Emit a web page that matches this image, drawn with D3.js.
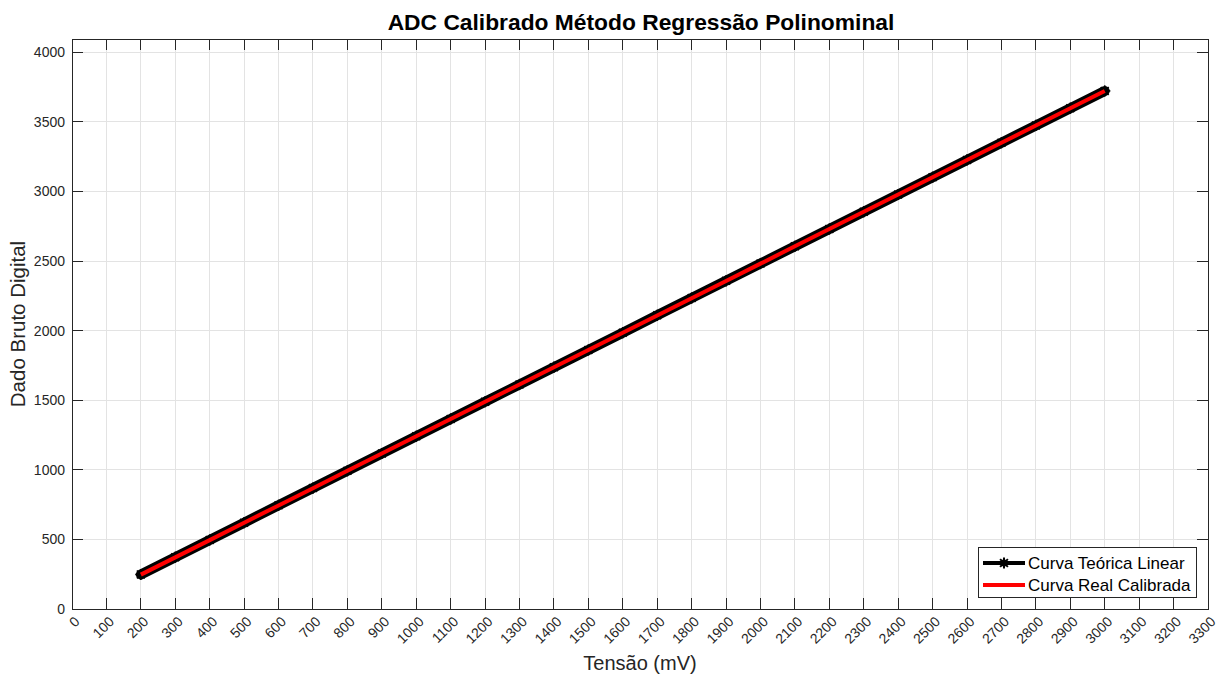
<!DOCTYPE html>
<html>
<head>
<meta charset="utf-8">
<script src="https://cdn.jsdelivr.net/npm/d3@7"></script>
<style>
  html, body { margin: 0; padding: 0; background: #fff; }
  svg { display: block; font-family: "Liberation Sans", Arial, Helvetica, sans-serif; }
</style>
</head>
<body>
<svg id="chart" width="1225" height="677"></svg>
<script>
// Tensão de entrada (mV)
const tensao = [200, 300, 400, 500, 600, 700, 800, 900, 1000, 1100, 1200, 1300, 1400, 1500,
  1600, 1700, 1800, 1900, 2000, 2100, 2200, 2300, 2400, 2500, 2600, 2700, 2800, 2900, 3000];
// Curva teórica linear (dado bruto)
const teorica = [248, 372, 496, 620, 745, 869, 993, 1117, 1241, 1365, 1489, 1613, 1737, 1861,
  1985, 2110, 2234, 2358, 2482, 2606, 2730, 2854, 2978, 3102, 3226, 3350, 3474, 3598, 3722];
// Curva real calibrada (dado bruto)
const calibrada = [247, 371, 495, 620, 744, 868, 993, 1117, 1241, 1365, 1489, 1613, 1737, 1861,
  1985, 2109, 2233, 2357, 2481, 2606, 2730, 2854, 2978, 3102, 3226, 3350, 3474, 3598, 3721];

const xTicks = d3.range(0, 3301, 100);
const yTicks = [0, 500, 1000, 1500, 2000, 2500, 3000, 3500, 4000];
const legendLabels = ["Curva Teórica Linear", "Curva Real Calibrada"];

const svg = d3.select("#chart");
const L = 72, R = 1208, T = 39, B = 609;
const x = d3.scaleLinear().domain([0, 3300]).range([L, R]);
const y = d3.scaleLinear().domain([0, 4095]).range([B, T]);
const axisColor = "#262626";
const tickLen = 11;

// grid
const grid = svg.append("g");
grid.selectAll("line.gx").data(xTicks).join("line")
  .attr("x1", d => x(d)).attr("x2", d => x(d)).attr("y1", T).attr("y2", B)
  .attr("stroke", "#e3e3e3").attr("stroke-width", 1).attr("shape-rendering", "crispEdges");
grid.selectAll("line.gy").data(yTicks).join("line")
  .attr("y1", d => y(d)).attr("y2", d => y(d)).attr("x1", L).attr("x2", R)
  .attr("stroke", "#e3e3e3").attr("stroke-width", 1).attr("shape-rendering", "crispEdges");

// data
const pts = (ys) => tensao.map((t, i) => [t, ys[i]]);
const line = d3.line().x(d => x(d[0])).y(d => y(d[1]));

svg.append("path").datum(pts(teorica)).attr("d", line)
  .attr("fill", "none").attr("stroke", "#000").attr("stroke-width", 10)
  .attr("stroke-linecap", "round").attr("stroke-linejoin", "round");

// asterisk markers
const star = (g, cx, cy, r, w) => {
  for (let k = 0; k < 4; k++) {
    const a = k * Math.PI / 4;
    g.append("line")
      .attr("x1", cx - r * Math.cos(a)).attr("y1", cy - r * Math.sin(a))
      .attr("x2", cx + r * Math.cos(a)).attr("y2", cy + r * Math.sin(a))
      .attr("stroke", "#000").attr("stroke-width", w);
  }
};
const mk = svg.append("g");
pts(teorica).forEach(d => star(mk, x(d[0]), y(d[1]), 5.6, 1.6));

svg.append("path").datum(pts(calibrada)).attr("d", line)
  .attr("fill", "none").attr("stroke", "#ff0000").attr("stroke-width", 4);

// axes box + ticks
const ax = svg.append("g").attr("stroke", axisColor).attr("stroke-width", 1)
  .attr("shape-rendering", "crispEdges");
ax.append("rect").attr("x", L).attr("y", T).attr("width", R - L).attr("height", B - T)
  .attr("fill", "none");
xTicks.forEach(t => {
  ax.append("line").attr("x1", x(t)).attr("x2", x(t)).attr("y1", B).attr("y2", B - tickLen);
  ax.append("line").attr("x1", x(t)).attr("x2", x(t)).attr("y1", T).attr("y2", T + tickLen);
});
yTicks.forEach(t => {
  ax.append("line").attr("y1", y(t)).attr("y2", y(t)).attr("x1", L).attr("x2", L + tickLen);
  ax.append("line").attr("y1", y(t)).attr("y2", y(t)).attr("x1", R).attr("x2", R - tickLen);
});

// tick labels
svg.append("g").selectAll("text").data(yTicks).join("text")
  .attr("x", L - 7).attr("y", d => y(d)).attr("dy", "0.35em")
  .attr("text-anchor", "end").attr("font-size", 14).attr("fill", axisColor)
  .text(d => d);
svg.append("g").selectAll("text").data(xTicks).join("text")
  .attr("transform", d => `translate(${x(d) + 5},${B + 10}) rotate(-45)`)
  .attr("text-anchor", "end").attr("dy", "0.35em")
  .attr("font-size", 14).attr("fill", axisColor)
  .text(d => d);

// labels
svg.append("text").attr("x", (L + R) / 2 + 1).attr("y", 30).attr("text-anchor", "middle")
  .attr("font-size", 22.8).attr("font-weight", "bold").attr("fill", "#000")
  .text("ADC Calibrado Método Regressão Polinominal");
svg.append("text").attr("x", (L + R) / 2).attr("y", 670).attr("text-anchor", "middle")
  .attr("font-size", 20).attr("fill", axisColor).text("Tensão (mV)");
svg.append("text").attr("transform", `translate(25,${(T + B) / 2}) rotate(-90)`)
  .attr("text-anchor", "middle").attr("font-size", 20.5).attr("fill", axisColor)
  .text("Dado Bruto Digital");

// legend
const lg = svg.append("g");
lg.append("rect").attr("x", 978.5).attr("y", 547.5).attr("width", 218).attr("height", 50)
  .attr("fill", "#fff").attr("stroke", axisColor).attr("stroke-width", 1);
const lgY = [563, 585];
lg.append("line").attr("x1", 983).attr("x2", 1025).attr("y1", lgY[0]).attr("y2", lgY[0])
  .attr("stroke", "#000").attr("stroke-width", 4);
star(lg, 1004, lgY[0], 5.5, 2);
lg.append("circle").attr("cx", 1004).attr("cy", lgY[0]).attr("r", 3.5).attr("fill", "#000");
lg.append("line").attr("x1", 983).attr("x2", 1025).attr("y1", lgY[1]).attr("y2", lgY[1])
  .attr("stroke", "#ff0000").attr("stroke-width", 4);
lg.selectAll("text").data(legendLabels).join("text")
  .attr("x", 1028).attr("y", (d, i) => lgY[i]).attr("dy", "0.35em")
  .attr("font-size", 17).attr("fill", "#000").text(d => d);
</script>
</body>
</html>
